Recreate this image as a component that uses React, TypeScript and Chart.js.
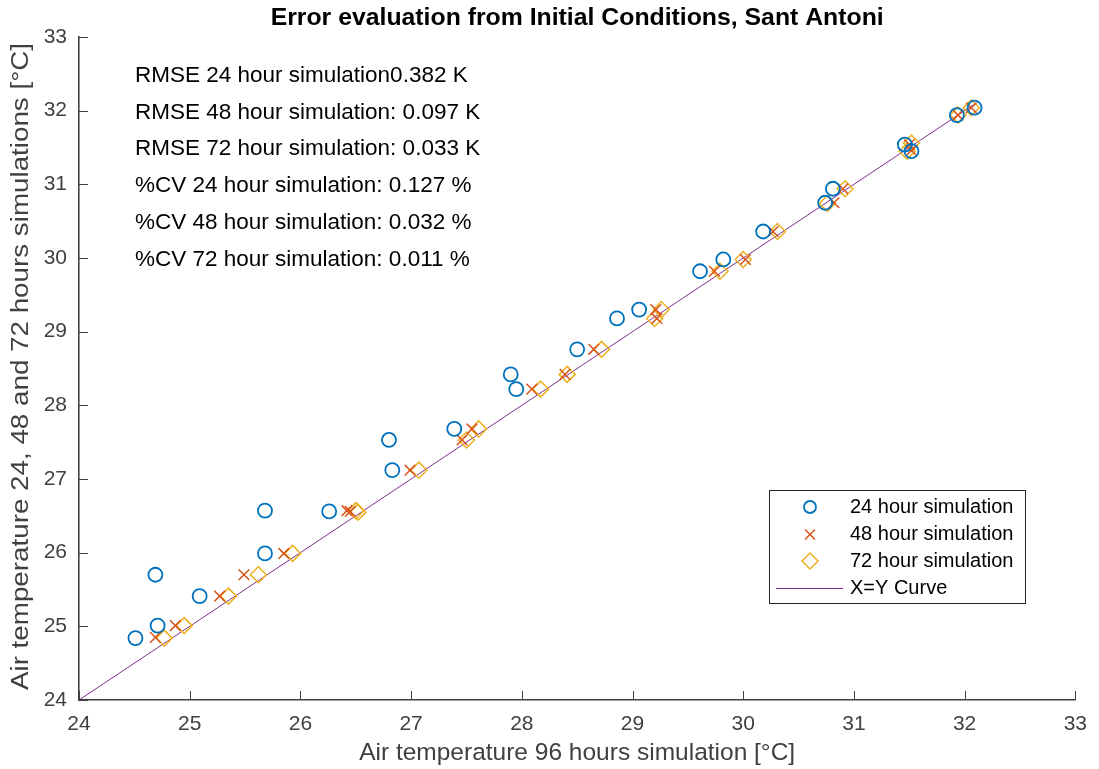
import React, { useEffect, useRef } from "react";
import { Chart, registerables } from "chart.js";

Chart.register(...registerables);

const FONT = "'Liberation Sans', Arial, Helvetica, sans-serif";

const titleText = "Error evaluation from Initial Conditions, Sant Antoni";
const xLabel = "Air temperature 96 hours simulation [°C]";
const yLabel = "Air temperature 24, 48 and 72 hours simulations [°C]";
const axisMin = 24;
const axisMax = 33;

const x24 = [24.51, 24.71, 24.69, 25.09, 25.68, 25.68, 26.26, 26.83, 26.8, 27.39, 27.9, 27.95, 28.5, 28.86, 29.06, 29.61, 29.82, 30.18, 30.74, 30.81, 31.46, 31.52, 31.93, 32.09];
const y24 = [24.84, 25.01, 25.7, 25.41, 25.99, 26.57, 26.56, 27.12, 27.53, 27.68, 28.42, 28.22, 28.76, 29.18, 29.3, 29.82, 29.98, 30.36, 30.75, 30.94, 31.54, 31.45, 31.94, 32.04];

const x48 = [24.69, 24.87, 25.27, 25.49, 25.85, 26.42, 26.45, 26.99, 27.46, 27.55, 28.09, 28.39, 28.65, 29.21, 29.22, 29.74, 30.02, 30.27, 30.82, 30.9, 31.5, 31.52, 31.94, 32.06];
const y48 = [24.85, 25.01, 25.41, 25.7, 25.99, 26.57, 26.56, 27.12, 27.53, 27.68, 28.22, 28.42, 28.76, 29.3, 29.18, 29.82, 29.98, 30.36, 30.75, 30.94, 31.54, 31.46, 31.94, 32.04];

const x72 = [24.77, 24.95, 25.35, 25.62, 25.93, 26.5, 26.52, 27.07, 27.5, 27.61, 28.17, 28.41, 28.72, 29.26, 29.2, 29.79, 30.0, 30.31, 30.76, 30.92, 31.52, 31.48, 31.94, 32.06];
const y72 = [24.84, 25.01, 25.41, 25.7, 25.99, 26.57, 26.55, 27.12, 27.53, 27.68, 28.22, 28.42, 28.76, 29.3, 29.18, 29.82, 29.98, 30.36, 30.74, 30.94, 31.56, 31.45, 31.94, 32.04];

const lineXY = [24, 32.08];

const seriesNames = ["24 hour simulation", "48 hour simulation", "72 hour simulation", "X=Y Curve"];

const annotations = [
  "RMSE 24 hour simulation0.382 K",
  "RMSE 48 hour simulation: 0.097 K",
  "RMSE 72 hour simulation: 0.033 K",
  "%CV 24 hour simulation: 0.127 %",
  "%CV 48 hour simulation: 0.032 %",
  "%CV 72 hour simulation: 0.011 %",
];

const BLUE = "#0072BD";
const ORANGE = "#D95319";
const YELLOW = "#EDB120";
const PURPLE = "#7E2F8E";
const AXIS = "#404040";

const pts = (xs: number[], ys: number[]) => xs.map((x, i) => ({ x, y: ys[i] }));

const decorPlugin = {
  id: "decor",
  afterDraw(chart: any) {
    const ctx = chart.ctx;
    const { left, right, top, bottom } = chart.chartArea;
    const xs = chart.scales.x;
    const ys = chart.scales.y;
    ctx.save();
    // inward ticks
    ctx.strokeStyle = AXIS;
    ctx.lineWidth = 1;
    ctx.beginPath();
    xs.ticks.forEach((t: any) => {
      const px = Math.round(xs.getPixelForValue(t.value)) + 0.5;
      ctx.moveTo(px, bottom);
      ctx.lineTo(px, bottom - 9);
    });
    ys.ticks.forEach((t: any) => {
      const py = Math.round(ys.getPixelForValue(t.value)) + 0.5;
      ctx.moveTo(left, py);
      ctx.lineTo(left + 9, py);
    });
    ctx.stroke();

    // title
    ctx.fillStyle = "#000";
    ctx.font = `bold 24.8px ${FONT}`;
    ctx.textAlign = "center";
    ctx.textBaseline = "middle";
    ctx.fillText(titleText, (left + right) / 2, 18.5);

    // y axis label
    ctx.save();
    ctx.translate(21, (top + bottom) / 2 - 2);
    ctx.rotate(-Math.PI / 2);
    ctx.scale(1.12, 1);
    ctx.fillStyle = AXIS;
    ctx.font = `24.8px ${FONT}`;
    ctx.fillText(yLabel, 0, 0);
    ctx.restore();

    // annotations
    ctx.fillStyle = "#000";
    ctx.font = `22.5px ${FONT}`;
    ctx.textBaseline = "middle";
    ctx.textAlign = "left";
    annotations.forEach((s, i) => {
      ctx.fillText(s, 135, 75.5 + i * 36.8);
    });

    // legend
    const bx = 769, by = 490, bw = 256, bh = 113;
    ctx.fillStyle = "#fff";
    ctx.fillRect(bx, by, bw, bh);
    ctx.strokeStyle = "#262626";
    ctx.lineWidth = 1;
    ctx.strokeRect(bx + 0.5, by + 0.5, bw, bh);
    const rows = [507, 534.5, 561, 588];
    const mx = 810;
    ctx.font = `20px ${FONT}`;
    ctx.fillStyle = "#000";
    rows.forEach((ry, i) => {
      ctx.fillText(seriesNames[i], 850, ry);
    });
    // markers
    ctx.lineWidth = 1.8;
    ctx.strokeStyle = BLUE;
    ctx.beginPath();
    ctx.arc(mx, rows[0], 6, 0, Math.PI * 2);
    ctx.stroke();
    ctx.strokeStyle = ORANGE;
    ctx.lineWidth = 1.5;
    ctx.beginPath();
    ctx.moveTo(mx - 5, rows[1] - 5);
    ctx.lineTo(mx + 5, rows[1] + 5);
    ctx.moveTo(mx - 5, rows[1] + 5);
    ctx.lineTo(mx + 5, rows[1] - 5);
    ctx.stroke();
    ctx.strokeStyle = YELLOW;
    ctx.beginPath();
    ctx.moveTo(mx - 8, rows[2]);
    ctx.lineTo(mx, rows[2] - 8);
    ctx.lineTo(mx + 8, rows[2]);
    ctx.lineTo(mx, rows[2] + 8);
    ctx.closePath();
    ctx.stroke();
    ctx.strokeStyle = PURPLE;
    ctx.lineWidth = 1;
    ctx.beginPath();
    ctx.moveTo(776, rows[3] + 0.5);
    ctx.lineTo(843, rows[3] + 0.5);
    ctx.stroke();
    ctx.restore();
  },
};

export default function App() {
  const ref = useRef<HTMLCanvasElement | null>(null);
  useEffect(() => {
    if (!ref.current) return;
    const chart = new Chart(ref.current, {
      type: "scatter",
      data: {
        datasets: [
          {
            label: seriesNames[3],
            type: "line",
            data: pts(lineXY, lineXY),
            borderColor: PURPLE,
            borderWidth: 1,
            pointRadius: 0,
            fill: false,
            order: 4,
          } as any,
          {
            label: seriesNames[0],
            data: pts(x24, y24),
            pointStyle: "circle",
            pointRadius: 7,
            borderColor: BLUE,
            backgroundColor: "rgba(0,0,0,0)",
            pointBorderWidth: 1.8,
            order: 1,
          },
          {
            label: seriesNames[1],
            data: pts(x48, y48),
            pointStyle: "crossRot",
            pointRadius: 7.5,
            borderColor: ORANGE,
            backgroundColor: "rgba(0,0,0,0)",
            pointBorderWidth: 1.5,
            order: 2,
          },
          {
            label: seriesNames[2],
            data: pts(x72, y72),
            pointStyle: "rectRot",
            pointRadius: 8,
            borderColor: YELLOW,
            backgroundColor: "rgba(0,0,0,0)",
            pointBorderWidth: 1.5,
            order: 3,
          },
        ],
      },
      options: {
        animation: false,
        responsive: false,
        layout: { padding: { left: 0, right: 22, top: 37, bottom: 0 } },
        plugins: {
          legend: { display: false },
          tooltip: { enabled: false },
          title: { display: false },
        },
        scales: {
          x: {
            type: "linear",
            min: axisMin,
            max: axisMax,
            ticks: { stepSize: 1, color: AXIS, font: { family: FONT, size: 21 }, padding: 12 },
            grid: { display: true, drawOnChartArea: false, drawTicks: false },
            border: { display: true, color: AXIS, width: 1.6 },
            title: {
              display: true,
              text: xLabel,
              color: AXIS,
              font: { family: FONT, size: 24.5, lineHeight: 1.2 },
              padding: { top: 0, bottom: 1 },
            },
            afterFit(scale: any) {
              scale.height = 69;
            },
          },
          y: {
            type: "linear",
            min: axisMin,
            max: axisMax,
            ticks: { stepSize: 1, color: AXIS, font: { family: FONT, size: 21 }, padding: 12 },
            grid: { display: true, drawOnChartArea: false, drawTicks: false },
            border: { display: true, color: AXIS, width: 1.6 },
            title: { display: false },
            afterFit(scale: any) {
              scale.width = 79;
            },
          },
        },
      },
      plugins: [decorPlugin],
    } as any);
    return () => chart.destroy();
  }, []);
  return (
    <div style={{ position: "absolute", left: 0, top: 0, width: 1099, height: 769 }}>
      <canvas ref={ref} width={1099} height={769} style={{ display: "block" }} />
    </div>
  );
}
